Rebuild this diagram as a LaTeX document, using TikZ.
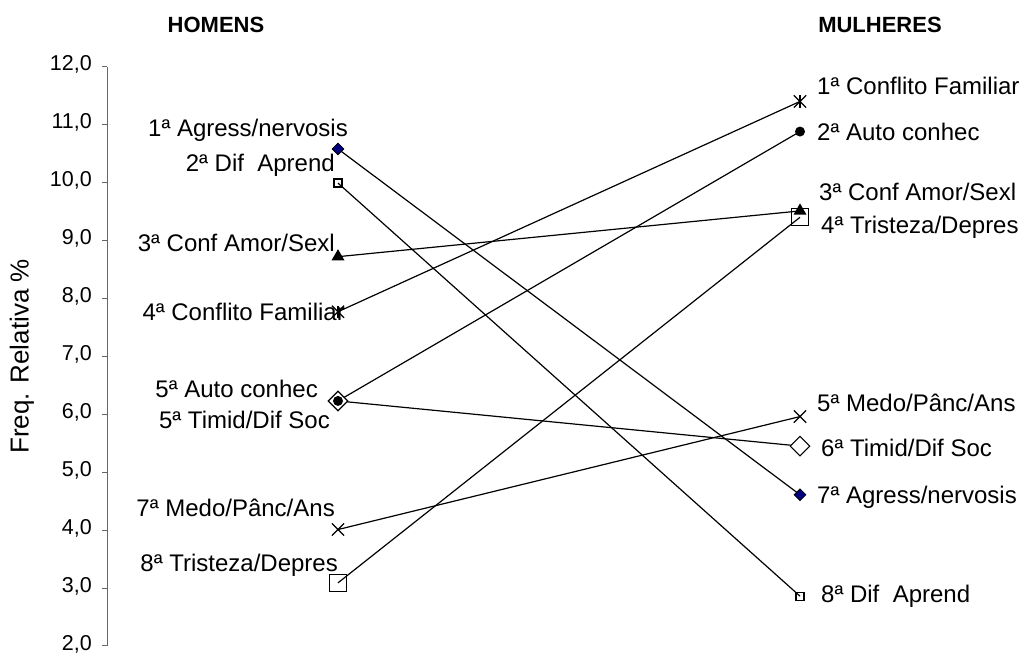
\documentclass[tikz,border=0pt]{standalone}
\usepackage{fontspec}
\setmainfont{Liberation Sans}
\usetikzlibrary{shapes.geometric,shapes.misc}
\definecolor{navy}{RGB}{0,0,128}

\begin{document}
\begin{tikzpicture}[x=1pt,y=57.93pt,
axis/.style={draw=black!60,line width=1pt},
conn/.style={line width=1.2pt},
lbl/.style={font=\fontsize{24}{28}\selectfont,inner sep=0pt},
ticklbl/.style={font=\fontsize{21.5}{25}\selectfont,inner sep=0pt,anchor=east},
head/.style={font=\fontsize{22}{26}\selectfont\bfseries,inner sep=0pt},
mkdia/.style={diamond,draw=black,fill=navy,line width=0.8pt,inner sep=0pt,minimum size=12pt},
mkbigdia/.style={diamond,draw=black,fill=white,line width=1.2pt,inner sep=0pt,minimum size=20pt},
mksq/.style={rectangle,draw=black,line width=1.3pt,inner sep=0pt,minimum size=8pt},
mkbigsq/.style={rectangle,draw=black,line width=1.3pt,inner sep=0pt,minimum size=17pt},
mktri/.style={regular polygon,regular polygon sides=3,fill=black,inner sep=0pt,minimum size=15pt},
mkdot/.style={circle,fill=black,inner sep=0pt,minimum size=10pt},
mkx/.style={cross out,draw=black,line width=1.2pt,inner sep=0pt,minimum size=11pt}]
\useasboundingbox (0,1.862) rectangle (1024,13.151);

\node[head] (hom) at (216,12.72) {HOMENS};
\node[head] (mul) at (880,12.72) {MULHERES};
\node[font=\fontsize{26}{30}\selectfont,rotate=90,inner sep=0pt] (ytit) at (22,7.0) {Freq. Relativa \%};

\draw[axis] (107.3,2) -- (107.3,12);
\foreach \v in {2,...,12} {
  \draw[axis] (102,\v) -- (107.3,\v);
  \node[ticklbl] (t\v) at (92,\v+0.035) {\v,0};
}

\coordinate (hAgr) at (338,10.58);
\coordinate (hDif) at (338,9.99);
\coordinate (hAmo) at (338,8.72);
\coordinate (hFam) at (338,7.77);
\coordinate (hAuto) at (338,6.23);
\coordinate (hTim) at (338,6.23);
\coordinate (hMedo) at (338,4.01);
\coordinate (hTri) at (338,3.09);
\coordinate (mFam) at (800,11.40);
\coordinate (mAuto) at (800,10.88);
\coordinate (mAmo) at (800,9.51);
\coordinate (mTri) at (800,9.40);
\coordinate (mMedo) at (800,5.96);
\coordinate (mTim) at (800,5.45);
\coordinate (mAgr) at (800,4.61);
\coordinate (mDif) at (800,2.86);

\draw[conn] (hAgr) -- (mAgr);
\draw[conn] (hDif) -- (mDif);
\draw[conn] (hAmo) -- (mAmo);
\draw[conn] (hFam) -- (mFam);
\draw[conn] (hAuto) -- (mAuto);
\draw[conn] (hTim) -- (mTim);
\draw[conn] (hMedo) -- (mMedo);
\draw[conn] (hTri) -- (mTri);

\node[mkdia] (hAgrM) at (hAgr) {};
\node[mkdia] (mAgrM) at (mAgr) {};
\node[mksq] (hDifM) at (hDif) {};
\node[mksq] (mDifM) at (mDif) {};
\node[mkbigsq] (hTriM) at (hTri) {};
\node[mkbigsq] (mTriM) at (mTri) {};
\node[mktri] (hAmoM) at (hAmo) {};
\node[mktri] (mAmoM) at (mAmo) {};
\node[mkx] (hFamM) at (hFam) {};
\node[mkx] (mFamM) at (mFam) {};
\draw[line width=1.2pt] (hFamM.north) -- (hFamM.south);
\draw[line width=1.2pt] (mFamM.north) -- (mFamM.south);
\node[mkbigdia] (hTimM) at (hTim) {};
\node[mkbigdia] (mTimM) at (mTim) {};
\node[mkdot] (hAutoM) at (hAuto) {};
\node[mkdot] (mAutoM) at (mAuto) {};
\node[mkx] (hMedoM) at (hMedo) {};
\node[mkx] (mMedoM) at (mMedo) {};

\node[lbl,anchor=east] (hAgrT) at (348,10.91) {1ª Agress/nervosis};
\node[lbl,anchor=east] (hDifT) at (335,10.30) {2ª Dif\ \ Aprend};
\node[lbl,anchor=east] (hAmoT) at (335,8.96) {3ª Conf Amor/Sexl};
\node[lbl,anchor=east] (hFamT) at (345,7.76) {4ª Conflito Familiar};
\node[lbl,anchor=east] (hAutoT) at (318,6.43) {5ª Auto conhec};
\node[lbl,anchor=east] (hTimT) at (330,5.90) {5ª Timid/Dif Soc};
\node[lbl,anchor=east] (hMedoT) at (335,4.38) {7ª Medo/Pânc/Ans};
\node[lbl,anchor=east] (hTriT) at (338,3.40) {8ª Tristeza/Depres};

\node[lbl,anchor=west] (mFamT) at (817,11.67) {1ª Conflito Familiar};
\node[lbl,anchor=west] (mAutoT) at (817,10.87) {2ª Auto conhec};
\node[lbl,anchor=west] (mAmoT) at (819,9.84) {3ª Conf Amor/Sexl};
\node[lbl,anchor=west] (mTriT) at (821,9.23) {4ª Tristeza/Depres};
\node[lbl,anchor=west] (mMedoT) at (817,6.19) {5ª Medo/Pânc/Ans};
\node[lbl,anchor=west] (mTimT) at (821,5.42) {6ª Timid/Dif Soc};
\node[lbl,anchor=west] (mAgrT) at (817,4.57) {7ª Agress/nervosis};
\node[lbl,anchor=west] (mDifT) at (821,2.85) {8ª Dif\ \ Aprend};
\end{tikzpicture}
\end{document}
